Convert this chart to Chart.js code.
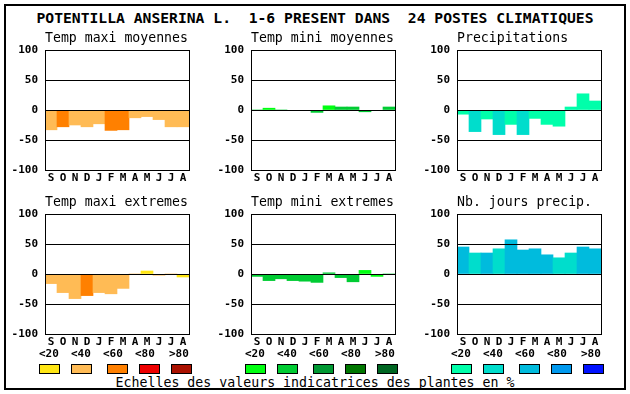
<!DOCTYPE html>
<html>
<head>
<meta charset="utf-8">
<script src="https://cdn.jsdelivr.net/npm/chart.js@4.4.1/dist/chart.umd.min.js"></script>
<style>
  body { margin: 0; background: #fff; width: 630px; height: 394px; position: relative; overflow: hidden; font-family: "DejaVu Sans Mono", monospace; }
  #frame { position: absolute; left: 4px; top: 4px; width: 622px; height: 386px; border: 2px solid #000; box-sizing: border-box; }
  #title { position: absolute; left: 0; width: 630px; top: 10px; text-align: center; font-weight: bold; font-size: 14.7px; line-height: 16px; white-space: pre; }
  #footer { position: absolute; left: 0; width: 630px; top: 376px; text-align: center; font-size: 13.25px; line-height: 14px; white-space: pre; }
  canvas { position: absolute; }
  .lab { position: absolute; font-weight: bold; font-size: 11px; line-height: 12px; white-space: pre; }
  .sw { position: absolute; width: 21px; height: 10px; border: 1px solid #000; box-sizing: border-box; }
</style>
</head>
<body>
<div id="frame"></div>
<div id="title">POTENTILLA ANSERINA L.  1-6 PRESENT DANS  24 POSTES CLIMATIQUES</div>
<div id="footer">Echelles des valeurs indicatrices des plantes en %</div>
<script>
// DATA
const months = ['S', 'O', 'N', 'D', 'J', 'F', 'M', 'A', 'M', 'J', 'J', 'A'];
const yTicks = [100, 50, 0, -50, -100];
const legendLabels = ['<20', '<40', '<60', '<80', '>80'];

const tmaxMoy    = [-33, -28, -25, -28, -23, -34, -33, -13, -11, -16, -28, -28];
const tmaxMoyCls = [1, 2, 1, 1, 1, 2, 2, 1, 1, 1, 1, 1];
const tminMoy    = [0, 3, 0, -1, -1, -4, 7, 5, 5, -3, -1, 5];
const tminMoyCls = [1, 0, 1, 1, 1, 1, 0, 1, 1, 1, 1, 1];
const precip     = [-7, -36, -15, -41, -24, -41, -14, -24, -27, 5, 27, 15];
const precipCls  = [0, 1, 0, 1, 0, 1, 0, 0, 0, 0, 0, 0];
const tmaxExt    = [-16, -31, -41, -36, -31, -33, -24, 0, 5, -2, 0, -5];
const tmaxExtCls = [1, 1, 1, 2, 1, 1, 1, 1, 0, 1, 1, 0];
const tminExt    = [-4, -11, -8, -11, -12, -14, 2, -6, -13, 6, -4, 0];
const tminExtCls = [1, 1, 1, 1, 1, 1, 1, 1, 1, 0, 0, 1];
const nbJours    = [45, 35, 35, 42, 57, 40, 42, 32, 27, 35, 45, 42];
const nbJoursCls = [2, 1, 2, 1, 2, 2, 2, 2, 1, 1, 2, 2];

// COLOURS
const tempColors  = ['#FFE614', '#FFBB55', '#FF8000', '#EE0000', '#AA1100'];
const greenColors = ['#00FF11', '#00CC33', '#009933', '#007700', '#006622'];
const blueColors  = ['#00FFAA', '#00DDCC', '#00BBDD', '#0099EE', '#0011FF'];

const mono = '"DejaVu Sans Mono", monospace';

// PANELS
const panels = [
  { title: 'Temp maxi moyennes', values: tmaxMoy, cls: tmaxMoyCls, pal: tempColors,  x: 45,  y: 50 },
  { title: 'Temp mini moyennes', values: tminMoy, cls: tminMoyCls, pal: greenColors, x: 251, y: 50 },
  { title: 'Precipitations',     values: precip,  cls: precipCls,  pal: blueColors,  x: 457, y: 50 },
  { title: 'Temp maxi extremes', values: tmaxExt, cls: tmaxExtCls, pal: tempColors,  x: 45,  y: 214 },
  { title: 'Temp mini extremes', values: tminExt, cls: tminExtCls, pal: greenColors, x: 251, y: 214 },
  { title: 'Nb. jours precip.',  values: nbJours, cls: nbJoursCls, pal: blueColors,  x: 457, y: 214 }
];

const framePlugin = {
  id: 'frame',
  afterDraw(chart) {
    const a = chart.chartArea;
    const ctx = chart.ctx;
    ctx.save();
    ctx.strokeStyle = '#000';
    ctx.lineWidth = 1;
    ctx.strokeRect(a.left + 0.5, a.top + 0.5, a.right - a.left, a.bottom - a.top);
    ctx.restore();
  }
};

panels.forEach(p => {
  const cv = document.createElement('canvas');
  cv.width = 190;
  cv.height = 158;
  cv.style.left = (p.x - 40) + 'px';
  cv.style.top = (p.y - 20) + 'px';
  document.body.appendChild(cv);

  new Chart(cv.getContext('2d'), {
    type: 'bar',
    data: {
      labels: months,
      datasets: [{
        data: p.values,
        backgroundColor: p.cls.map(c => p.pal[c]),
        borderWidth: 0,
        barPercentage: 1,
        categoryPercentage: 1
      }]
    },
    options: {
      responsive: false,
      animation: false,
      devicePixelRatio: 1,
      layout: { padding: { left: 0, right: 6, top: 0, bottom: 0 } },
      plugins: {
        legend: { display: false },
        tooltip: { enabled: false },
        title: {
          display: true,
          text: p.title,
          align: 'start',
          fullSize: false,
          color: '#000',
          font: { family: mono, size: 13.2, weight: 'normal', lineHeight: '16px' },
          padding: { top: 1, bottom: 3 }
        }
      },
      scales: {
        x: {
          grid: { display: false, drawTicks: false },
          border: { display: false },
          ticks: {
            color: '#000',
            font: { family: mono, size: 11, weight: 'bold' },
            padding: 2,
            maxRotation: 0,
            autoSkip: false
          },
          afterFit(scale) { scale.height = 18; }
        },
        y: {
          min: -100,
          max: 100,
          afterBuildTicks(scale) { scale.ticks = yTicks.map(v => ({ value: v })); },
          grid: { color: '#000', lineWidth: 1, drawTicks: false, z: 1 },
          border: { display: false },
          ticks: {
            color: '#000',
            font: { family: mono, size: 11, weight: 'bold' },
            padding: 7
          },
          afterFit(scale) { scale.width = 40; }
        }
      }
    },
    plugins: [framePlugin]
  });
});

// LEGEND SCALES
const setStarts = [39, 245, 451];
const setPalettes = [tempColors, greenColors, blueColors];
const labelOffsets = [0, 32, 64, 96, 130];
const swatchOffsets = [0, 32, 68, 100, 132];

setStarts.forEach((sx, s) => {
  legendLabels.forEach((txt, i) => {
    const l = document.createElement('div');
    l.className = 'lab';
    l.textContent = txt;
    l.style.left = (sx + labelOffsets[i]) + 'px';
    l.style.top = '348px';
    document.body.appendChild(l);

    const sw = document.createElement('div');
    sw.className = 'sw';
    sw.style.left = (sx + swatchOffsets[i]) + 'px';
    sw.style.top = '364px';
    sw.style.background = setPalettes[s][i];
    document.body.appendChild(sw);
  });
});
</script>
</body>
</html>
